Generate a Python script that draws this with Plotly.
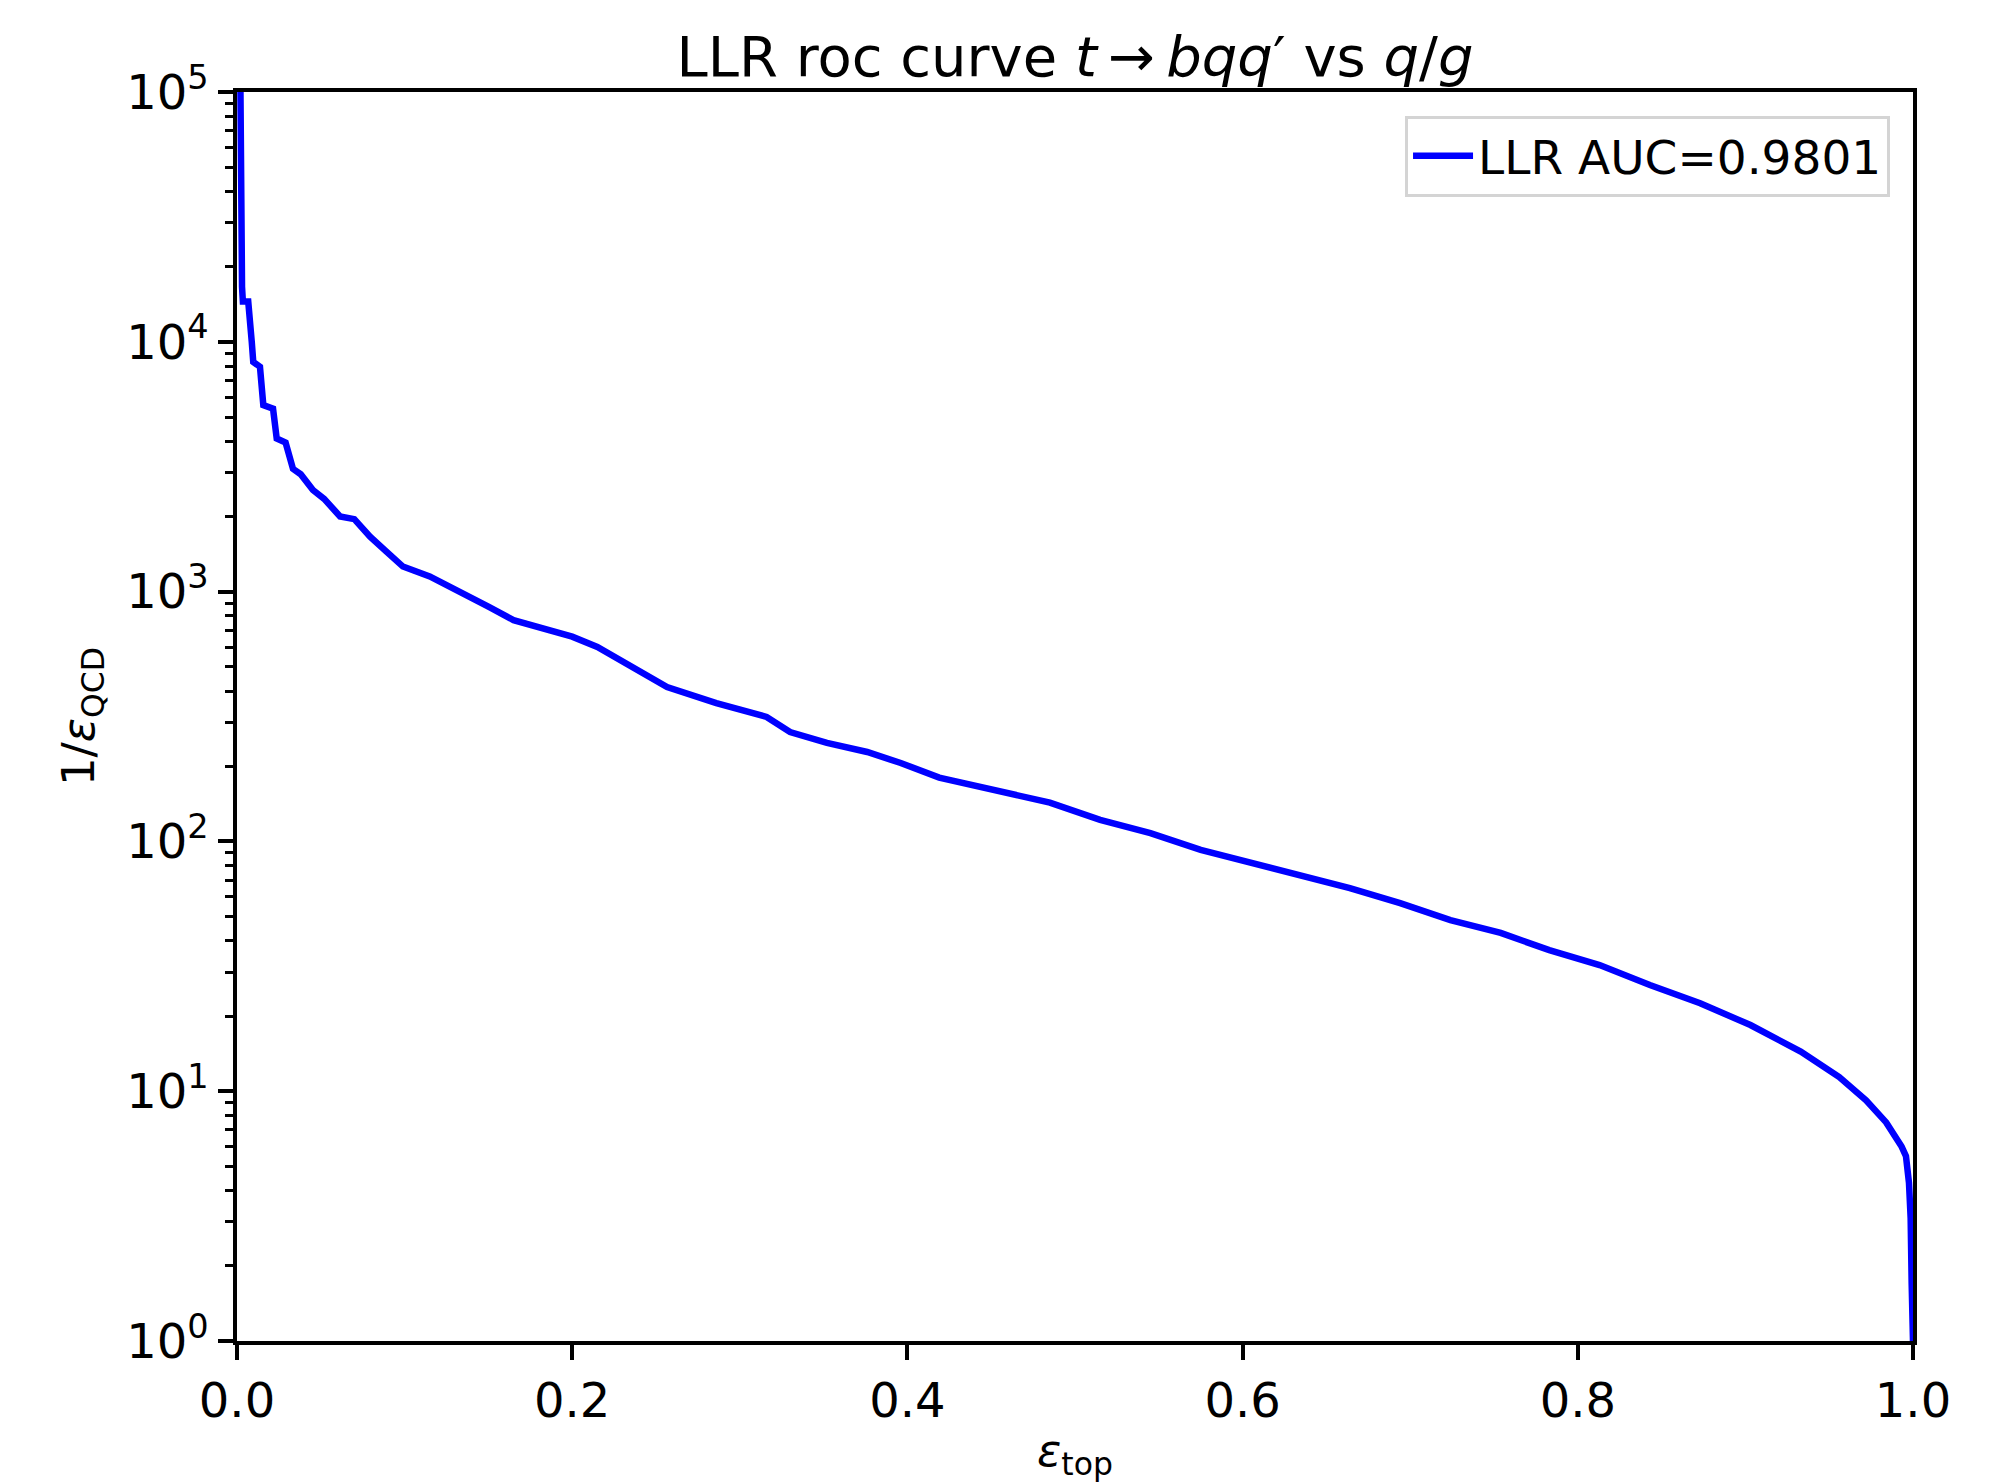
import plotly.graph_objects as go

# ---- data ----
eff_top = [0.0015, 0.0022, 0.0030, 0.0035, 0.0067, 0.0088, 0.0097, 0.0137, 0.0157, 0.0215,
           0.0237, 0.029, 0.0334, 0.038, 0.0453, 0.052, 0.0615, 0.070, 0.0794, 0.089,
           0.099, 0.115, 0.135, 0.150, 0.165, 0.185, 0.200, 0.215, 0.235, 0.2566,
           0.286, 0.316, 0.330, 0.352, 0.376, 0.396, 0.419, 0.455, 0.485, 0.515,
           0.545, 0.575, 0.604, 0.634, 0.664, 0.694, 0.724, 0.754, 0.783, 0.813,
           0.843, 0.873, 0.903, 0.933, 0.956, 0.972, 0.984, 0.9932, 0.9958, 0.9976,
           0.9986, 0.9992, 1.0]
inv_eff_qcd = [3e5, 2.0e4, 1.66e4, 1.45e4, 1.45e4, 1.0e4, 8300, 7950, 5580, 5400,
               4100, 3950, 3100, 2950, 2550, 2350, 2000, 1950, 1660, 1450,
               1260, 1150, 986, 870, 769, 701, 660, 600, 500, 415,
               358, 315, 274, 248, 228, 206, 180, 158, 143, 122,
               108, 92.5, 82.8, 73.4, 65, 56.6, 48.4, 43, 36.7, 32,
               26.6, 22.5, 18.4, 14.4, 11.4, 9.2, 7.5, 6.0, 5.5, 4.3,
               3.1, 1.7, 1.0]
series_name = "LLR AUC=0.9801"
x_ticks = [0.0, 0.2, 0.4, 0.6, 0.8, 1.0]
y_ticks = [1, 10, 100, 1000, 10000, 100000]
y_ticktext = ["10<sup>0</sup>", "10<sup>1</sup>", "10<sup>2</sup>",
              "10<sup>3</sup>", "10<sup>4</sup>", "10<sup>5</sup>"]
y_minor = [m * 10 ** k for k in range(0, 5) for m in range(2, 10)]

FONT = "DejaVu Sans"

fig = go.Figure()
fig.add_trace(go.Scatter(
    x=eff_top, y=inv_eff_qcd, mode="lines", name=series_name,
    line=dict(color="#0000ff", width=6.5), showlegend=True,
))

fig.update_layout(
    width=1992, height=1484,
    margin=dict(l=237, r=79, t=92, b=143),
    paper_bgcolor="white", plot_bgcolor="white",
    font=dict(family=FONT, size=48, color="black"),
    title=dict(
        text="LLR roc curve <i>t</i>\u2009\u2192\u2009<i>bqq</i>\u2032 vs <i>q</i>/<i>g</i>",
        x=0.5, xref="paper", xanchor="center",
        y=1, yref="paper", yanchor="bottom", pad=dict(b=16),
        font=dict(family=FONT, size=56, color="black"),
    ),
    legend=dict(
        x=0.9863, y=0.981, xanchor="right", yanchor="top",
        bgcolor="rgba(255,255,255,0.8)", bordercolor="#d4d4d4", borderwidth=3,
        font=dict(family=FONT, size=47, color="black"),
        itemwidth=60,
    ),
)

fig.update_xaxes(
    range=[0, 1], tickvals=x_ticks, tickformat=".1f",
    tickfont=dict(family=FONT, size=48),
    showline=True, linecolor="black", linewidth=3.5, mirror=True,
    ticks="outside", ticklen=15, tickwidth=3.5, tickcolor="black",
    showgrid=False, zeroline=False,
    title=dict(text="<i>\u03b5</i><sub>top</sub>", font=dict(family=FONT, size=45), standoff=8),
)
fig.update_yaxes(
    type="log", range=[0, 5], tickvals=y_ticks, ticktext=y_ticktext,
    tickfont=dict(family=FONT, size=48),
    showline=True, linecolor="black", linewidth=3.5, mirror=True,
    ticks="outside", ticklen=15, tickwidth=3.5, tickcolor="black",
    minor=dict(tickvals=y_minor, ticks="outside", ticklen=8.6, tickwidth=2.6, tickcolor="black", showgrid=False),
    showgrid=False, zeroline=False,
    title=dict(text="1/<i>\u03b5</i><sub>QCD</sub>", font=dict(family=FONT, size=45), standoff=18),
)

fig.write_html("out.html")
